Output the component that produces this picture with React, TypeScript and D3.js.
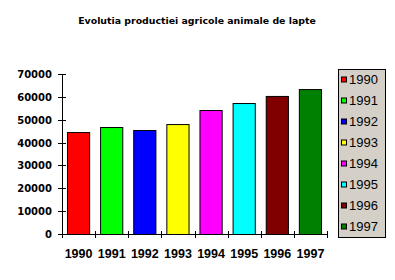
import React from "react";
import * as d3 from "d3";

const title = "Evolutia productiei agricole animale de lapte";
const years = ["1990", "1991", "1992", "1993", "1994", "1995", "1996", "1997"];
const values = [44600, 46800, 45500, 48100, 54250, 57300, 60400, 63400];
const colors = ["#ff0000", "#00ff00", "#0000ff", "#ffff00", "#ff00ff", "#00ffff", "#800000", "#008000"];
const yTicks = [0, 10000, 20000, 30000, 40000, 50000, 60000, 70000];

export default function App() {
  const W = 395, H = 280;
  const x0 = 62, x1 = 327, yTop = 74, yBot = 234;
  const x = d3.scaleBand<string>().domain(years).range([x0, x1]).paddingInner(0.3).paddingOuter(0.15);
  const y = d3.scaleLinear().domain([0, 70000]).range([yBot, yTop]);
  const step = x.step();
  const font = "'Liberation Sans', Arial, sans-serif";
  const dv = "'DejaVu Sans', sans-serif";
  const legX = 338, legY = 69, legW = 47, legH = 168;
  const legStep = 21;
  return (
    <svg width={W} height={H} style={{ position: "absolute", left: 0, top: 0, background: "#fff" }}>
      <rect x={0} y={0} width={W} height={H} fill="#fff" />
      <text x={197} y={24} textAnchor="middle" fontFamily={dv} fontWeight="bold" fontSize={9.4} fill="#000">
        {title}
      </text>
      {/* bars */}
      {years.map((yr, i) => (
        <rect key={yr} x={x(yr)! + 0.5} y={y(values[i]) + 0.5} width={x.bandwidth() - 1} height={yBot - y(values[i])}
          fill={colors[i]} stroke="#000" strokeWidth={1} />
      ))}
      {/* y axis */}
      <line x1={x0 + 0.5} x2={x0 + 0.5} y1={yTop} y2={yBot + 4} stroke="#000" />
      {yTicks.map((t) => (
        <g key={t}>
          <line x1={x0 - 4} x2={x0 + 4} y1={Math.round(y(t)) + 0.5} y2={Math.round(y(t)) + 0.5} stroke="#000" />
          <text x={52} y={y(t) + 4} textAnchor="end" fontFamily={dv} fontWeight="bold" fontSize={10} fill="#000">
            {d3.format("d")(t)}
          </text>
        </g>
      ))}
      {/* x axis */}
      <line x1={x0 - 4} x2={x1 + 1} y1={yBot + 0.5} y2={yBot + 0.5} stroke="#000" />
      {d3.range(years.length + 1).map((i) => (
        <line key={i} x1={Math.round(x0 + i * step) + 0.5} x2={Math.round(x0 + i * step) + 0.5} y1={yBot - 3} y2={yBot + 4} stroke="#000" />
      ))}
      {years.map((yr) => (
        <text key={yr} x={x(yr)! + x.bandwidth() / 2} y={258} textAnchor="middle" fontFamily={font} fontWeight="bold" fontSize={12.5} fill="#000">
          {yr}
        </text>
      ))}
      {/* legend */}
      <rect x={legX + 0.5} y={legY + 0.5} width={legW} height={legH} fill="#d4d0c8" stroke="#000" />
      {years.map((yr, i) => {
        const cy = legY + 10.5 + i * legStep;
        return (
          <g key={yr}>
            <rect x={341.5} y={cy - 2.5} width={5} height={5} fill={colors[i]} stroke="#000" />
            <text x={349} y={cy + 4.5} fontFamily={font} fontSize={13} fill="#000">{yr}</text>
          </g>
        );
      })}
    </svg>
  );
}
